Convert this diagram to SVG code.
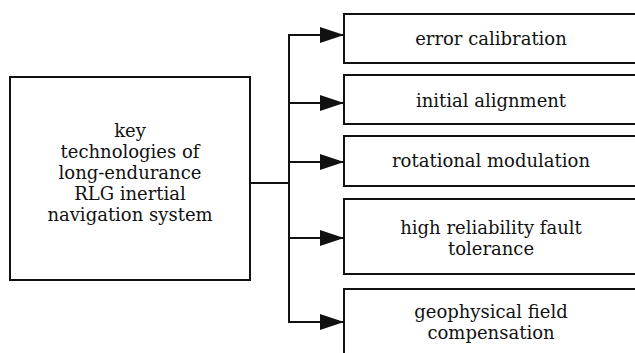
<svg xmlns="http://www.w3.org/2000/svg" width="635" height="353" viewBox="0 0 635 353">
<style>
.box{fill:#fff;stroke:#111;stroke-width:2}
.ln{fill:none;stroke:#111;stroke-width:2}
.t{font-family:"DejaVu Serif","Liberation Serif",serif;font-size:18px;fill:#111;text-anchor:middle}
</style>
<defs>
<marker id="ah" markerWidth="24" markerHeight="16" refX="24" refY="8" orient="auto" markerUnits="userSpaceOnUse">
<polygon points="0,0 24,8 0,16" fill="#111"/>
</marker>
</defs>
<rect width="635" height="353" fill="#fff"/>
<g id="connectors">
<line class="ln" x1="250" y1="183" x2="289" y2="183"/>
<line class="ln" x1="289" y1="34" x2="289" y2="323"/>
<line class="ln" x1="288" y1="35" x2="344" y2="35" marker-end="url(#ah)"/>
<line class="ln" x1="288" y1="103" x2="344" y2="103" marker-end="url(#ah)"/>
<line class="ln" x1="288" y1="162" x2="344" y2="162" marker-end="url(#ah)"/>
<line class="ln" x1="288" y1="238" x2="344" y2="238" marker-end="url(#ah)"/>
<line class="ln" x1="288" y1="322" x2="344" y2="322" marker-end="url(#ah)"/>
</g>
<g id="root">
<rect class="box" x="10" y="77" width="240" height="203"/>
<text class="t"><tspan x="130" y="137">key</tspan><tspan x="130" y="158">technologies of</tspan><tspan x="130" y="179">long-endurance</tspan><tspan x="130" y="200">RLG inertial</tspan><tspan x="130" y="221">navigation system</tspan></text>
</g>
<g id="n1">
<rect class="box" x="344" y="14" width="300" height="49"/>
<text class="t" x="491" y="45">error calibration</text>
</g>
<g id="n2">
<rect class="box" x="344" y="75" width="300" height="49"/>
<text class="t" x="491" y="107">initial alignment</text>
</g>
<g id="n3">
<rect class="box" x="344" y="136" width="300" height="50"/>
<text class="t" x="491" y="167">rotational modulation</text>
</g>
<g id="n4">
<rect class="box" x="344" y="199" width="300" height="75"/>
<text class="t"><tspan x="491" y="234">high reliability fault</tspan><tspan x="491" y="255">tolerance</tspan></text>
</g>
<g id="n5">
<rect class="box" x="344" y="289" width="300" height="80"/>
<text class="t"><tspan x="491" y="318">geophysical field</tspan><tspan x="491" y="339">compensation</tspan></text>
</g>
</svg>
